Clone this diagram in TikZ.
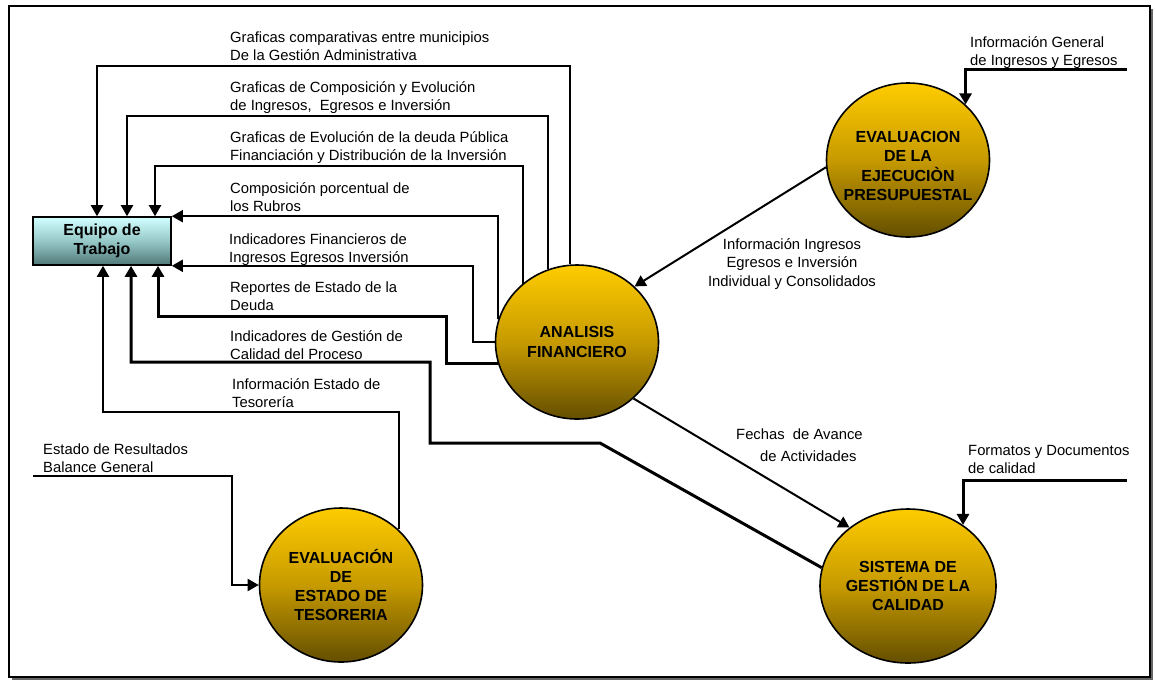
\documentclass[tikz,border=0pt]{standalone}
\usepackage{fontspec}
\setmainfont{Liberation Sans}
\usetikzlibrary{arrows.meta,shapes.geometric,calc}

\definecolor{sunTop}{RGB}{255,204,0}
\definecolor{sunMid}{RGB}{198,154,0}
\definecolor{sunBot}{RGB}{100,78,0}
\definecolor{teamTop}{RGB}{210,255,255}
\definecolor{teamMid}{RGB}{150,200,200}
\definecolor{teamBot}{RGB}{80,120,120}

\newcommand\lblfont{\fontsize{14.8}{17.7}\selectfont}
\newcommand\procfont{\fontsize{16}{19.3}\bfseries\selectfont}

\begin{document}
\begin{tikzpicture}[x=1pt,y=-1pt,
  process/.style={ellipse, draw=black, line width=1.6pt, minimum width=163pt,
    minimum height=154pt, inner sep=0pt, top color=sunTop, bottom color=sunBot,
    middle color=sunMid, align=center, font=\procfont},
  team/.style={rectangle, draw=black, line width=1.6pt, minimum width=138pt,
    minimum height=48pt, inner sep=0pt, top color=teamTop, bottom color=teamBot,
    middle color=teamMid, align=center, font=\procfont},
  caption/.style={inner sep=0pt, align=center, font=\procfont},
  flow/.style={line width=2pt, -{Triangle[length=11pt,width=12pt]}},
  heavyflow/.style={flow, line width=3pt},
  % multi-line labels: the base anchor sits on the last line
  lbl/.style={anchor=base west, inner sep=0pt, align=left, font=\lblfont},
]
\useasboundingbox (0,0) rectangle (1155,681);

% frame with drop shadow
\fill[black!60] (12,9) rectangle (1153,680);
\draw[line width=2pt, fill=white] (9,6) rectangle (1150,677);

% work team and processes
\node[team] (EQ) at (102,241) {Equipo de\\Trabajo};
\node[process] (AF) at (577,342) {ANALISIS\\FINANCIERO};
\node[process] (EJ) at (908,160) {};
\node[caption] at ($(EJ.center)+(0,6)$) {EVALUACION\\DE LA\\EJECUCIÒN\\PRESUPUESTAL};
\node[process] (SG) at (908,586) {SISTEMA DE\\GESTIÓN DE LA\\CALIDAD};
\node[process] (ET) at (341,585) {EVALUACIÓN\\DE\\ESTADO DE\\TESORERIA};

% external inputs
\coordinate (srcA) at (1127,69);
\coordinate (srcB) at (1127,480);
\coordinate (srcC) at (33,476);

% reports going back to the team
\draw[flow] (AF.95) -- (AF.95 |- 0,66) -| ($(EQ.north)+(-5,0)$);
\draw[flow] (AF.112) -- (AF.112 |- 0,116) -| ($(EQ.north)+(25,0)$);
\draw[flow] (AF.133) -- (AF.133 |- 0,166) -| ($(EQ.north)+(53,0)$);
\draw[flow] (AF.164) |- (EQ.north east);
\draw[flow] (AF.west) -- ++(-22,0) |- (EQ.south east);
\draw[heavyflow] (AF.195) -| (446,316) -| ($(EQ.south)+(56,0)$);
\draw[heavyflow] (SG.168) -- (600,443) -| (430,362) -| ($(EQ.south)+(29,0)$);
\draw[flow] (ET.44) -- (ET.44 |- 0,412) -| ($(EQ.south)+(1,0)$);

% flows between processes
\draw[flow] (EJ.185) -- (AF.44);
\draw[flow] (AF.315) -- (SG.135);
\draw[heavyflow] (srcA) -| (EJ.44);
\draw[heavyflow] (srcB) -| (SG.48);
\draw[flow] (srcC) -- (232,476) |- (ET.west);

% flow labels
\node[lbl] at (230,60) {Graficas comparativas entre municipios\\De la Gestión Administrativa};
\node[lbl] at (230,110) {Graficas de Composición y Evolución\\de Ingresos,~ Egresos e Inversión};
\node[lbl] at (230,160) {Graficas de Evolución de la deuda Pública\\Financiación y Distribución de la Inversión};
\node[lbl] at (230,211.5) {Composición porcentual de\\los Rubros};
\node[lbl] at (229,262) {Indicadores Financieros de\\Ingresos Egresos Inversión};
\node[lbl] at (230,310.5) {Reportes de Estado de la\\Deuda};
\node[lbl] at (230,359.5) {Indicadores de Gestión de\\Calidad del Proceso};
\node[lbl] at (232,407.5) {Información Estado de\\Tesorería};
\node[lbl] at (43,472.5) {Estado de Resultados\\Balance General};
\node[lbl] at (970,65.5) {Información General\\de Ingresos y Egresos};
\node[lbl] at (968,473.5) {Formatos y Documentos\\de calidad};
\node[lbl, anchor=base, align=center, font=\fontsize{14.8}{18.5}\selectfont] at (792,286)
  {Información Ingresos\\Egresos e Inversión\\Individual y Consolidados};
\node[lbl, font=\fontsize{14.8}{22}\selectfont] at (736,461)
  {Fechas~ de Avance\\\hspace*{24pt}de Actividades};
\end{tikzpicture}
\end{document}
